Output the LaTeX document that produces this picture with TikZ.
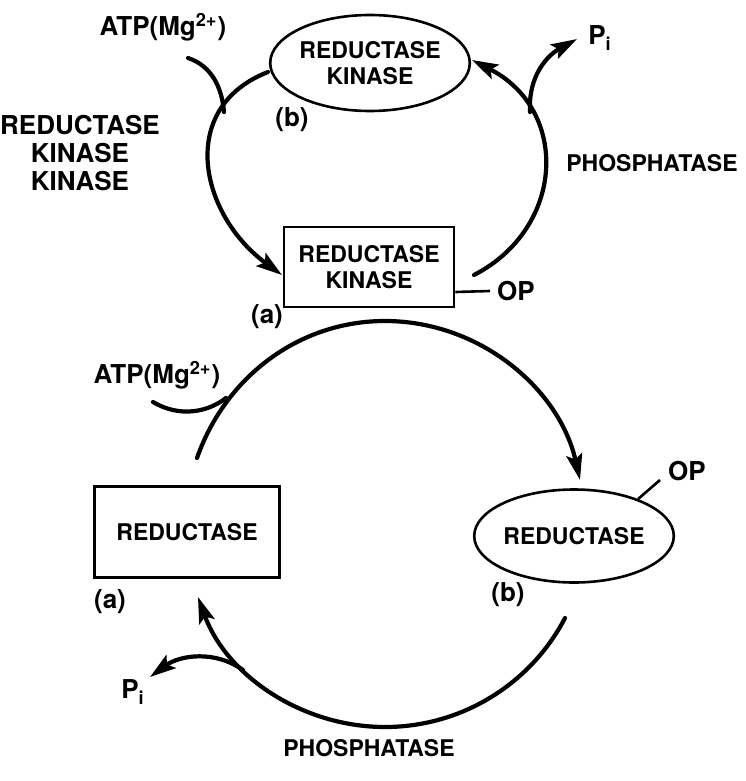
\documentclass[tikz,border=0pt]{standalone}
\usepackage{fontspec}
\setmainfont{TeX Gyre Heros}
\usetikzlibrary{arrows.meta,shapes.geometric}

\begin{document}
\begin{tikzpicture}[x=0.5pt,y=-0.5pt,
    font=\bfseries\fontsize{13}{14}\selectfont,
    arc/.style={line width=2.1pt,line cap=round},
    tip/.style={-{Stealth[length=13pt,width=8pt,inset=2.5pt]}},
    box/.style={draw,line width=1.3pt,inner sep=0pt,align=center,font=\bfseries\fontsize{11.5}{13}\selectfont},
    enzyme/.style={font=\bfseries\fontsize{11.5}{13}\selectfont},
    link/.style={line width=1.3pt}]
\useasboundingbox (0,0) rectangle (745,781);
%\draw [help lines,step=50] (0,0) grid (745,781);

% top cycle
\node [box,ellipse,minimum width=93pt,minimum height=48pt] (rk) at (370,63) {REDUCTASE\\KINASE};
\node [box,rectangle,minimum width=85pt,minimum height=40pt] (rkp) at (369,267) {REDUCTASE\\KINASE};
\node (op1) at (516,291) {OP};
\draw [link] ([yshift=-12.5pt]rkp.east) -- (op1.west);
\node (lb1) at (292,120) {(b)};
\node (la1) at (267,317) {(a)};
\node (atp1) at (163,27) {ATP(Mg\textsuperscript{2+})};
\node [align=center] (rkk) at (80,153) {REDUCTASE\\KINASE\\KINASE};
\node [enzyme] (ph1) at (652,163) {PHOSPHATASE};
\node (pi1) at (600,38) {P\textsubscript{i}};

\coordinate (k1) at (268,72);
\coordinate (k2) at (282,275);
\coordinate (k3) at (474,275);
\coordinate (k4) at (472,60);
\coordinate (a1) at (188,58);
\coordinate (a2) at (224,112);
\coordinate (p1) at (530,112);
\coordinate (p2) at (577,39);
\draw [arc,tip] (k1) .. controls (176,108) and (200,215) .. (k2);
\draw [arc] (a1) .. controls (212,66) and (222,88) .. (a2);
\draw [arc,tip] (k3) .. controls (565,228) and (570,110) .. (k4);
\draw [arc,tip] (p1) .. controls (528,75) and (548,55) .. (p2);

% bottom cycle
\node [box,rectangle,minimum width=92.5pt,minimum height=45.5pt] (red) at (187,532) {REDUCTASE};
\node [box,ellipse,minimum width=89.5pt,minimum height=46.5pt] (redp) at (574,536) {REDUCTASE};
\node (op2) at (687,471) {OP};
\coordinate (o2) at (660,480);
\draw [link] (redp.30) -- (o2);
\node (la2) at (110,602) {(a)};
\node (lb2) at (508,595) {(b)};
\node (atp2) at (157,375) {ATP(Mg\textsuperscript{2+})};
\node (pi2) at (133,692) {P\textsubscript{i}};
\node [enzyme] (ph2) at (369,748) {PHOSPHATASE};

\coordinate (b1) at (197,458);
\coordinate (b2) at (580,480);
\coordinate (b3) at (565,618);
\coordinate (b4) at (198,597);
\coordinate (a3) at (153,402);
\coordinate (a4) at (226,398);
\coordinate (p3) at (243,670);
\coordinate (p4) at (150,677);
\draw [arc,tip] (b1) .. controls (225.5,376.8) and (299,321) .. (385,321)
    .. controls (480,321) and (559.4,388.9) .. (b2);
\draw [arc] (a3) .. controls (180,418) and (208,412) .. (a4);
\draw [arc,tip] (b3) .. controls (530,685) and (460.6,727) .. (385,727)
    .. controls (301.8,727) and (226.5,675.4) .. (b4);
\draw [arc,tip] (p3) .. controls (215,650) and (180,655) .. (p4);
\end{tikzpicture}
\end{document}
